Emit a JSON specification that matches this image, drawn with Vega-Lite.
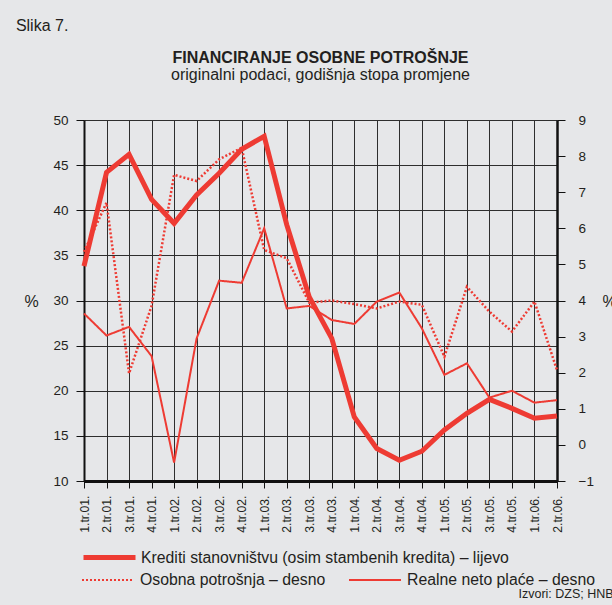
{
  "$schema": "https://vega.github.io/schema/vega-lite/v6.json",
  "background": "#e6e7e9",
  "padding": {"left": 15, "top": 18, "right": 20, "bottom": 20},
  "config": {
    "font": "Liberation Sans",
    "view": {"stroke": null},
    "concat": {"spacing": 0}
  },
  "title": {
    "text": "Slika 7.",
    "anchor": "start",
    "frame": "bounds",
    "fontSize": 16,
    "fontWeight": "normal",
    "color": "#231f20",
    "offset": 16,
    "dx": -8
  },
  "vconcat": [
    {
      "width": 473,
      "height": 361,
      "title": {
        "text": "FINANCIRANJE OSOBNE POTROŠNJE",
        "subtitle": "originalni podaci, godišnja stopa promjene",
        "anchor": "middle",
        "frame": "group",
        "fontSize": 16,
        "fontWeight": "bold",
        "color": "#231f20",
        "subtitleFontSize": 16,
        "subtitleColor": "#231f20",
        "subtitlePadding": 1,
        "offset": 30
      },
      "data": {
        "values": [
          {"q": "1.tr.01.", "krediti": 33.8, "potrosnja": 5.35, "place": 3.64},
          {"q": "2.tr.01.", "krediti": 44.2, "potrosnja": 6.71, "place": 3.03},
          {"q": "3.tr.01.", "krediti": 46.2, "potrosnja": 1.98, "place": 3.27},
          {"q": "4.tr.01.", "krediti": 41.2, "potrosnja": 3.85, "place": 2.46},
          {"q": "1.tr.02.", "krediti": 38.55, "potrosnja": 7.48, "place": -0.49},
          {"q": "2.tr.02.", "krediti": 41.7, "potrosnja": 7.31, "place": 2.95},
          {"q": "3.tr.02.", "krediti": 44.1, "potrosnja": 7.91, "place": 4.55},
          {"q": "4.tr.02.", "krediti": 46.75, "potrosnja": 8.23, "place": 4.49},
          {"q": "1.tr.03.", "krediti": 48.2, "potrosnja": 5.4, "place": 6.0},
          {"q": "2.tr.03.", "krediti": 38.4, "potrosnja": 5.17, "place": 3.78},
          {"q": "3.tr.03.", "krediti": 30.4, "potrosnja": 3.94, "place": 3.85},
          {"q": "4.tr.03.", "krediti": 25.8, "potrosnja": 4.0, "place": 3.46},
          {"q": "1.tr.04.", "krediti": 17.1, "potrosnja": 3.9, "place": 3.35},
          {"q": "2.tr.04.", "krediti": 13.6, "potrosnja": 3.78, "place": 3.97},
          {"q": "3.tr.04.", "krediti": 12.3, "potrosnja": 3.97, "place": 4.22},
          {"q": "4.tr.04.", "krediti": 13.3, "potrosnja": 3.88, "place": 3.23},
          {"q": "1.tr.05.", "krediti": 15.65, "potrosnja": 2.44, "place": 1.94},
          {"q": "2.tr.05.", "krediti": 17.5, "potrosnja": 4.38, "place": 2.26},
          {"q": "3.tr.05.", "krediti": 19.05, "potrosnja": 3.69, "place": 1.31},
          {"q": "4.tr.05.", "krediti": 18.05, "potrosnja": 3.14, "place": 1.5},
          {"q": "1.tr.06.", "krediti": 16.95, "potrosnja": 3.97, "place": 1.17},
          {"q": "2.tr.06.", "krediti": 17.2, "potrosnja": 2.07, "place": 1.24}
        ]
      },
      "encoding": {
        "x": {
          "field": "q",
          "type": "ordinal",
          "sort": null,
          "scale": {"type": "point", "padding": 0},
          "axis": {
            "orient": "bottom",
            "grid": true,
            "gridColor": "#2e2e2e",
            "gridWidth": 1,
            "domain": true,
            "domainColor": "#111",
            "domainWidth": 3,
            "ticks": true,
            "tickColor": "#111",
            "tickSize": 7,
            "labelAngle": 270,
            "labelAlign": "right",
            "labelBaseline": "middle",
            "labelFontSize": 12.2,
            "labelColor": "#231f20",
            "labelPadding": 7,
            "title": "Izvori: DZS; HNB",
            "titleX": 434,
            "titleY": 112,
            "titleAlign": "left",
            "titleAnchor": "start",
            "titleBaseline": "middle",
            "titleFontSize": 12.5,
            "titleFontWeight": "normal",
            "titleColor": "#231f20"
          }
        }
      },
      "layer": [
        {
          "mark": {"type": "line", "strokeWidth": 5, "strokeJoin": "miter", "strokeCap": "butt"},
          "encoding": {
            "y": {
              "field": "krediti",
              "type": "quantitative",
              "scale": {"domain": [10, 50], "nice": false, "zero": false},
              "axis": {
                "orient": "left",
                "values": [10, 15, 20, 25, 30, 35, 40, 45, 50],
                "grid": true,
                "gridColor": "#2e2e2e",
                "gridWidth": 1,
                "domain": true,
                "domainColor": "#111",
                "domainWidth": 2,
                "tickColor": "#111",
                "tickSize": 8,
                "labelFontSize": 13.5,
                "labelColor": "#231f20",
                "labelPadding": 8,
                "labelFlush": false,
                "labelOverlap": false,
                "title": "%",
                "titleAngle": 0,
                "titleX": -53,
                "titleY": 181,
                "titleAlign": "center",
                "titleBaseline": "middle",
                "titleFontSize": 16,
                "titleFontWeight": "normal",
                "titleColor": "#231f20"
              }
            },
            "color": {
              "datum": "Krediti stanovništvu (osim stambenih kredita) – lijevo",
              "type": "nominal",
              "scale": {"range": ["#ee3b33"]},
              "legend": {
                "orient": "none",
                "legendX": -3,
                "legendY": 409,
                "title": null,
                "padding": 0,
                "symbolType": "stroke",
                "symbolSize": 2704,
                "symbolStrokeWidth": 5,
                "labelFontSize": 15.8,
                "labelColor": "#231f20",
                "labelOffset": 3,
                "labelLimit": 600
              }
            }
          }
        },
        {
          "layer": [
            {
              "mark": {"type": "line", "strokeWidth": 2.5, "color": "#ee3b33", "strokeJoin": "miter"},
              "encoding": {
                "y": {
                  "field": "potrosnja",
                  "type": "quantitative",
                  "scale": {"domain": [-1, 9], "nice": false, "zero": false},
                  "axis": {
                    "orient": "right",
                    "values": [-1, 0, 1, 2, 3, 4, 5, 6, 7, 8, 9],
                    "grid": false,
                    "domain": true,
                    "domainColor": "#111",
                    "domainWidth": 2.5,
                    "tickColor": "#111",
                    "tickSize": 8,
                    "labelFontSize": 13.5,
                    "labelColor": "#231f20",
                    "labelPadding": 13,
                    "labelFlush": false,
                    "labelOverlap": false,
                    "title": "%",
                    "titleAngle": 0,
                    "titleX": 45,
                    "titleY": 181,
                    "titleAlign": "left",
                    "titleBaseline": "middle",
                    "titleFontSize": 16,
                    "titleFontWeight": "normal",
                    "titleColor": "#231f20"
                  }
                },
                "strokeDash": {
                  "datum": "Osobna potrošnja – desno",
                  "type": "nominal",
                  "scale": {
                    "domain": ["Osobna potrošnja – desno", "Realne neto plaće – desno"],
                    "range": [[2, 2], [1, 0]]
                  },
                  "legend": {
                    "orient": "none",
                    "direction": "horizontal",
                    "legendX": -3,
                    "legendY": 433,
                    "title": null,
                    "padding": 0,
                    "columnPadding": 19,
                    "symbolType": "stroke",
                    "symbolSize": 2704,
                    "symbolStrokeWidth": 2,
                    "symbolStrokeColor": "#ee3b33",
                    "labelFontSize": 15.8,
                    "labelColor": "#231f20",
                    "labelOffset": 5,
                    "labelLimit": 600
                  }
                }
              }
            },
            {
              "mark": {"type": "line", "strokeWidth": 2, "color": "#ee3b33", "strokeJoin": "miter"},
              "encoding": {
                "y": {
                  "field": "place",
                  "type": "quantitative",
                  "scale": {"domain": [-1, 9], "nice": false, "zero": false},
                  "axis": {
                    "orient": "right",
                    "values": [-1, 0, 1, 2, 3, 4, 5, 6, 7, 8, 9],
                    "grid": false,
                    "domain": true,
                    "domainColor": "#111",
                    "domainWidth": 2.5,
                    "tickColor": "#111",
                    "tickSize": 8,
                    "labelFontSize": 13.5,
                    "labelColor": "#231f20",
                    "labelPadding": 13,
                    "labelFlush": false,
                    "labelOverlap": false,
                    "title": "%",
                    "titleAngle": 0,
                    "titleX": 45,
                    "titleY": 181,
                    "titleAlign": "left",
                    "titleBaseline": "middle",
                    "titleFontSize": 16,
                    "titleFontWeight": "normal",
                    "titleColor": "#231f20"
                  }
                },
                "strokeDash": {
                  "datum": "Realne neto plaće – desno",
                  "type": "nominal"
                }
              }
            }
          ]
        }
      ],
      "resolve": {"scale": {"y": "independent"}}
    }
  ]
}
